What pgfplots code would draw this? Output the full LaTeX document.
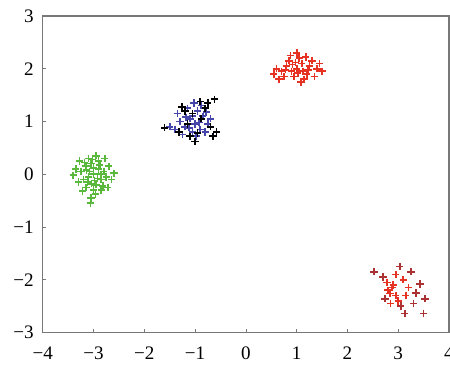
\documentclass[border=0pt]{standalone}
\usepackage{pgfplots}
\pgfplotsset{compat=1.18}
\usepackage{fontspec}
\setmainfont{Liberation Serif}
\usetikzlibrary{calc}
\definecolor{cgreen}{RGB}{90,185,60}
\definecolor{cblue}{RGB}{70,70,170}
\definecolor{cred}{RGB}{230,50,35}
\definecolor{cdred}{RGB}{170,50,50}
\definecolor{axgray}{RGB}{120,120,120}
\begin{document}
\begin{tikzpicture}[x=1pt,y=1pt]
\begin{axis}[
  name=ax,
  width=244.8pt, height=190.8pt,
  scale only axis,
  xmin=-4, xmax=4, ymin=-3, ymax=3,
  xtick={-4,-3,-2,-1,0,1,2,3,4},
  xticklabels={−4,−3,−2,−1,0,1,2,3,4},
  ytick={-3,-2,-1,0,1,2,3},
  yticklabels={−3,−2,−1,0,1,2,3},
  tick pos=left,
  tick align=inside,
  major tick length=2pt,
  axis line style={axgray, line width=0.8pt},
  every tick/.style={axgray},
  tick label style={font=\fontsize{11.5}{13}\selectfont},
  xticklabel style={yshift=-5pt},
  yticklabel style={xshift=-2pt},
  clip=false,
  every axis plot/.append style={only marks, mark=+, mark size=2.2pt, line width=1pt},
]
\addplot[cgreen] coordinates {
(-3.00,0.00) (-2.90,0.10) (-3.10,-0.05) (-2.85,-0.10) (-3.15,0.15) (-3.05,0.20) (-2.95,-0.20) (-3.20,-0.10) (-2.80,0.05) (-3.10,0.30) (-2.90,0.25) (-3.25,0.05) (-2.75,-0.05) (-3.00,-0.30) (-3.05,-0.45) (-2.95,0.35) (-3.30,-0.15) (-2.70,0.15) (-3.15,-0.25) (-2.85,-0.30) (-3.35,0.10) (-2.65,-0.10) (-3.00,0.12) (-2.92,-0.08) (-3.08,0.05) (-3.12,-0.15) (-2.88,0.18) (-2.98,-0.12) (-3.18,0.22) (-2.82,-0.22) (-3.40,-0.02) (-2.60,0.02) (-3.22,-0.32) (-2.78,0.30) (-3.02,0.28) (-2.96,-0.38) (-3.06,-0.55) (-3.28,0.25) (-2.72,-0.25) (-3.14,0.08) (-2.86,0.00) (-3.04,-0.18)
};
\addplot[cblue] coordinates {
(-1.00,0.95) (-1.10,1.05) (-0.90,0.85) (-1.20,0.90) (-0.85,1.10) (-1.05,0.80) (-0.95,1.20) (-1.30,1.00) (-0.75,0.95) (-1.15,1.25) (-0.80,0.80) (-1.25,0.75) (-1.40,0.85) (-0.70,1.05) (-1.05,1.10) (-0.92,0.98) (-1.12,0.88) (-0.98,0.72) (-1.35,1.15) (-0.88,1.30) (-1.50,0.90) (-1.02,1.35) (-0.78,1.18) (-1.18,1.08)
};
\addplot[black] coordinates {
(-0.62,1.42) (-0.65,0.72) (-1.26,1.28) (-1.60,0.88) (-0.95,0.78) (-1.10,0.72) (-0.80,1.25) (-1.15,0.95) (-0.70,0.90) (-1.05,1.15) (-0.88,1.05) (-1.32,0.80) (-0.75,1.35) (-1.00,0.62) (-0.58,0.80) (-1.20,1.20) (-0.90,1.38)
};
\addplot[cred] coordinates {
(1.00,2.00) (1.10,2.10) (0.90,1.95) (1.20,1.90) (0.80,2.05) (1.05,2.20) (0.95,1.85) (1.25,2.05) (0.70,1.95) (1.15,1.80) (0.85,2.15) (1.30,2.15) (0.60,2.00) (1.40,2.00) (1.00,2.30) (1.08,1.75) (0.75,1.85) (0.55,1.90) (1.35,1.85) (0.92,2.08) (1.18,2.22) (1.45,2.10) (1.02,1.92) (0.88,2.25) (0.65,1.80) (1.22,1.98) (0.98,2.12) (1.12,1.95) (0.78,1.98) (1.50,1.95)
};
\addplot[cred] coordinates {
(2.84,-2.26) (2.90,-2.10) (2.80,-2.20) (2.95,-2.30) (3.10,-2.00) (3.00,-2.40) (2.88,-2.15) (3.15,-2.30) (2.78,-2.05) (2.95,-1.90) (2.85,-2.45) (3.20,-2.15)
};
\addplot[cdred] coordinates {
(2.52,-1.85) (3.03,-1.75) (3.43,-2.08) (3.53,-2.36) (3.13,-2.64) (3.50,-2.64) (2.74,-2.36) (2.70,-1.95) (3.25,-1.85) (3.35,-2.25) (3.05,-2.50) (3.30,-2.45)
};
\end{axis}
\pgfresetboundingbox
\path ($(ax.south west)+(-25.8pt,-26.4pt)$) rectangle ($(ax.north east)+(0.6pt,9.6pt)$);
\end{tikzpicture}
\end{document}
